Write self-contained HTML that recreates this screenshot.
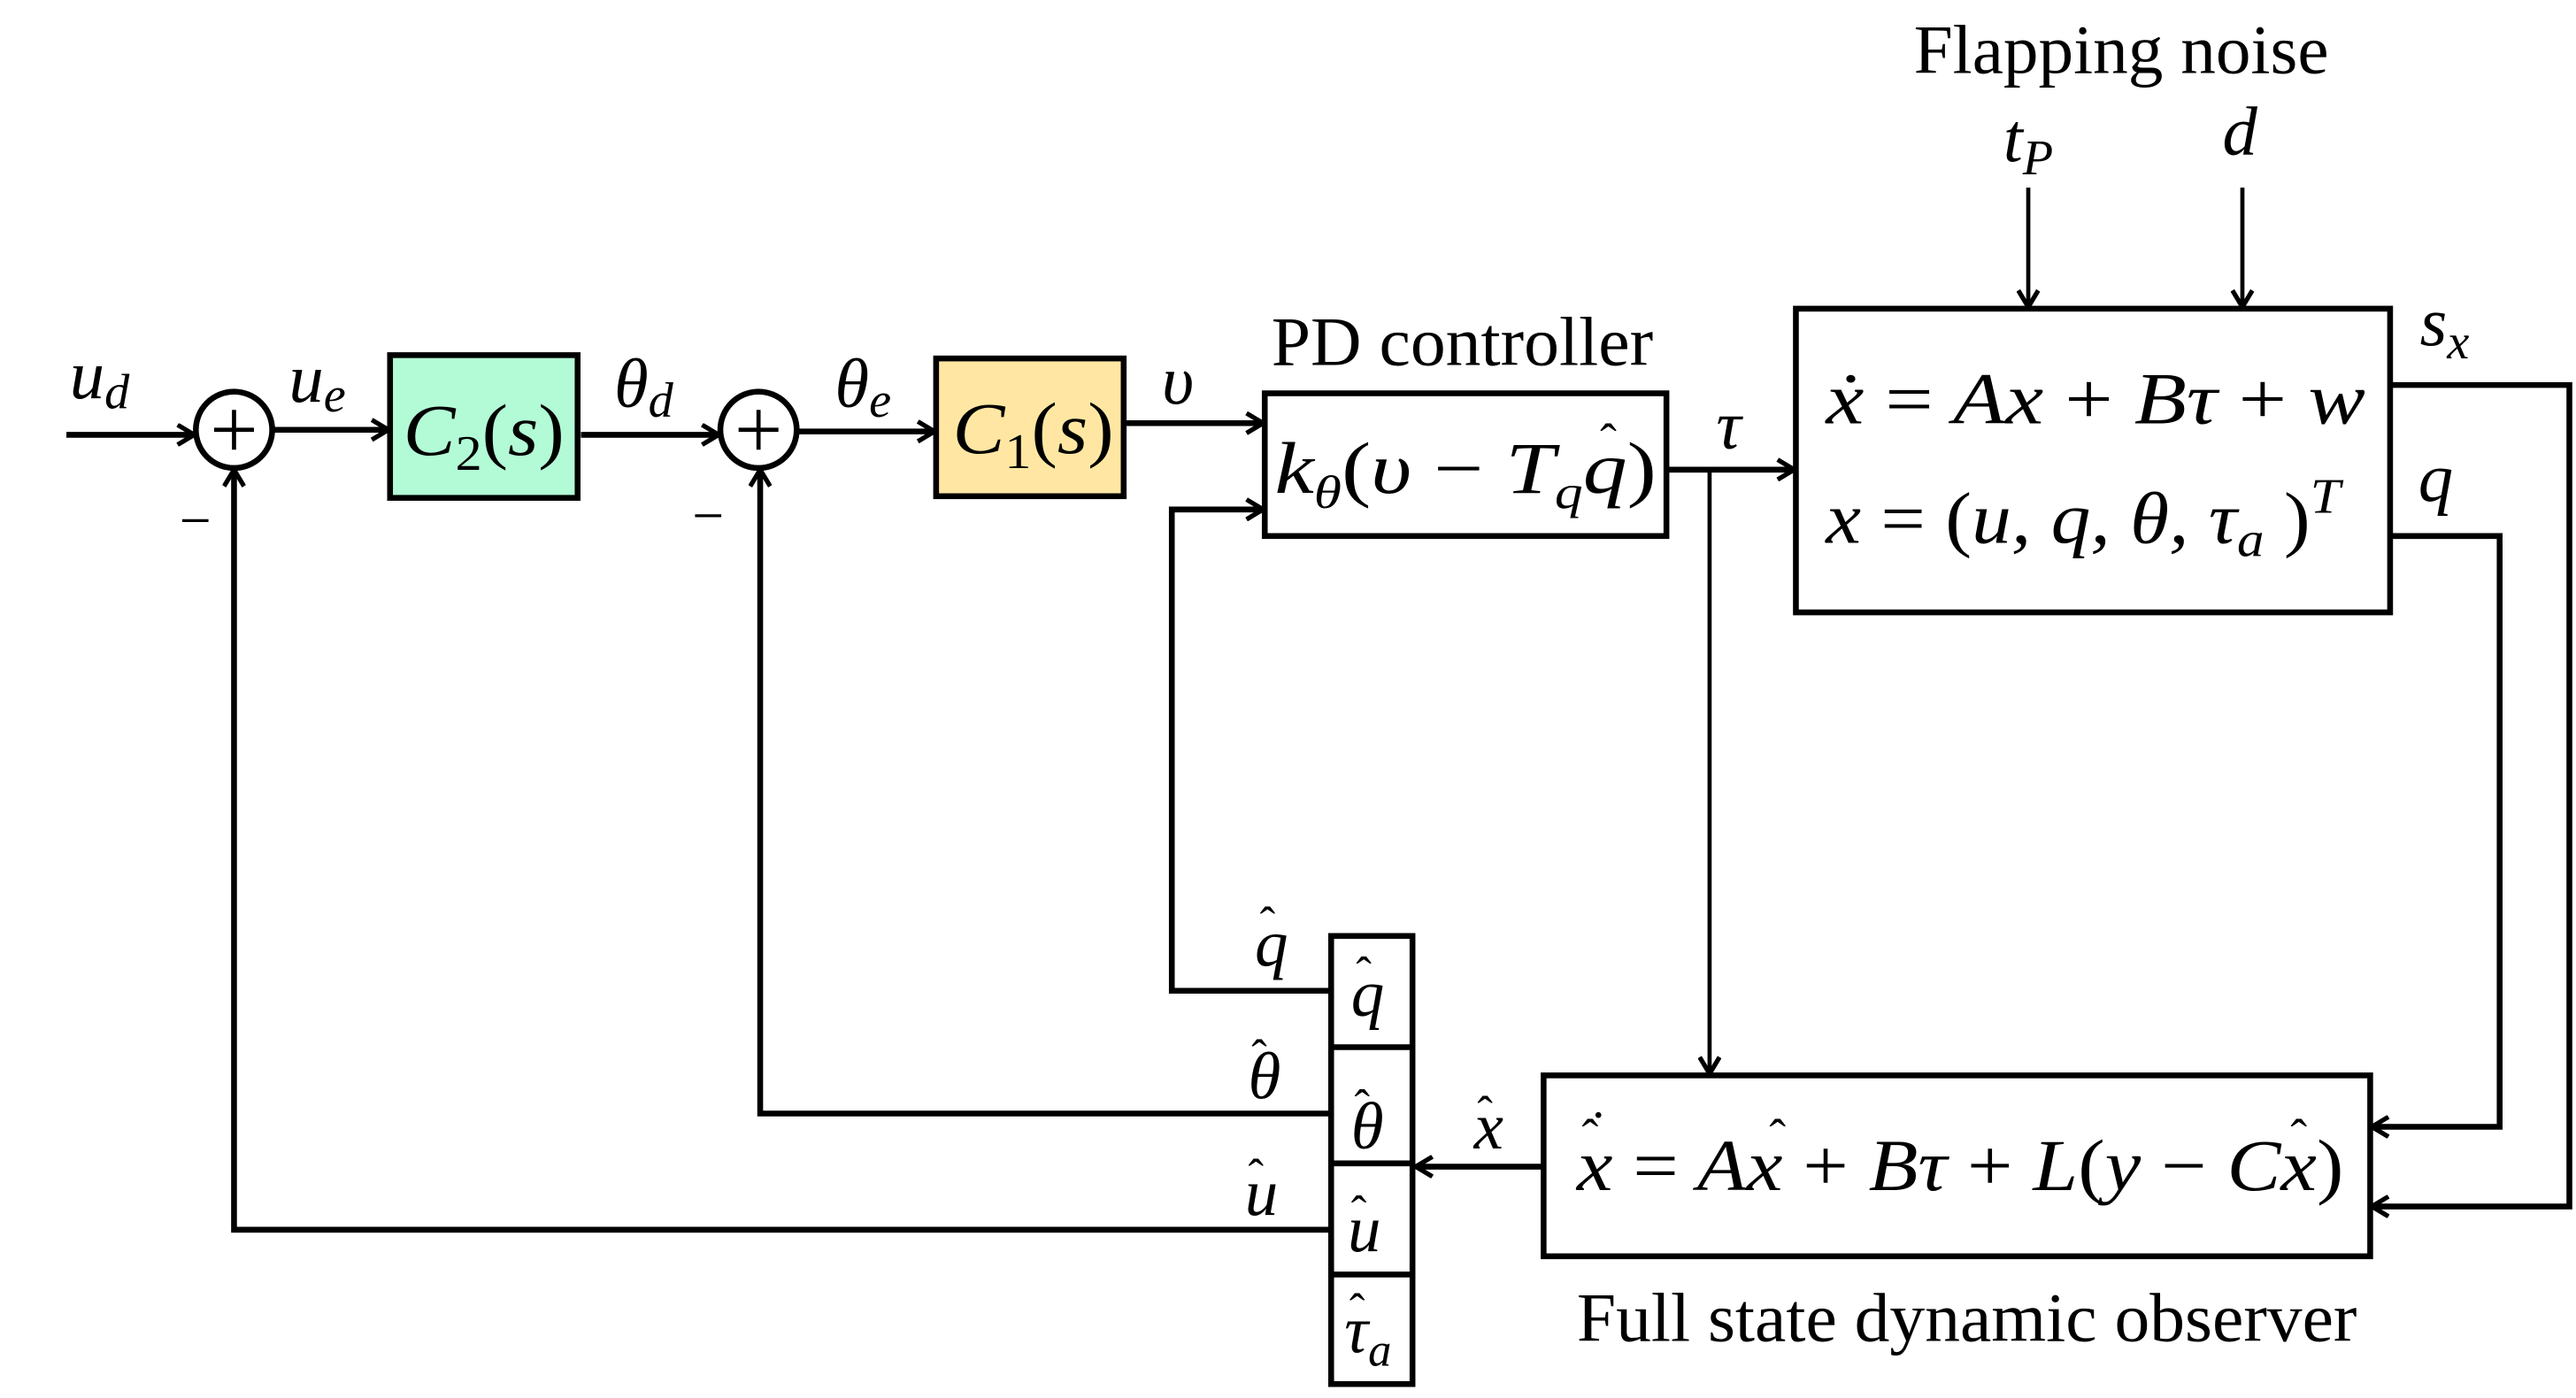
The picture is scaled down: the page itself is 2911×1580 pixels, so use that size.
<!DOCTYPE html>
<html><head><meta charset="utf-8"><style>
html,body{margin:0;padding:0;background:#fff;}
svg{display:block;}
text{font-family:"Liberation Serif",serif;fill:#000;}
.m{font-style:italic;}
.h{font-style:normal;}
</style></head><body>
<svg width="2911" height="1580" viewBox="0 0 1552 842.4" preserveAspectRatio="none" xmlns="http://www.w3.org/2000/svg">
<defs>
<marker id="a" markerWidth="14" markerHeight="14" refX="11" refY="7" orient="auto" markerUnits="userSpaceOnUse">
<path d="M1,1 L11,7 L1,13" fill="none" stroke="#000" stroke-width="2.8"/>
</marker>
</defs>
<g stroke="#000" stroke-width="3.5" fill="none">
<rect x="235" y="214" width="113" height="86" fill="#b3fbd6"/>
<rect x="564" y="216" width="113" height="83" fill="#ffe7a3"/>
<rect x="762" y="237" width="242" height="86"/>
<rect x="1082" y="186" width="358" height="183"/>
<rect x="930" y="648" width="498" height="109"/>
<rect x="802" y="564" width="49" height="270"/>
<line x1="802" y1="631" x2="851" y2="631"/>
<line x1="802" y1="701" x2="851" y2="701"/>
<line x1="802" y1="768" x2="851" y2="768"/>
<circle cx="141" cy="259" r="23" fill="#fff"/>
<circle cx="457" cy="259" r="23" fill="#fff"/>
<line x1="129" y1="259" x2="153" y2="259" stroke-width="2.5"/>
<line x1="141" y1="247" x2="141" y2="271" stroke-width="2.5"/>
<line x1="445" y1="259" x2="469" y2="259" stroke-width="2.5"/>
<line x1="457" y1="247" x2="457" y2="271" stroke-width="2.5"/>
<line x1="40" y1="262" x2="117" y2="262" marker-end="url(#a)"/>
<line x1="164" y1="259" x2="234" y2="259" marker-end="url(#a)"/>
<line x1="350" y1="262" x2="433" y2="262" marker-end="url(#a)"/>
<line x1="480" y1="260" x2="563" y2="260" marker-end="url(#a)"/>
<line x1="677" y1="255" x2="761" y2="255" marker-end="url(#a)"/>
<polyline points="802,597 706,597 706,307 761,307" marker-end="url(#a)"/>
<line x1="1004" y1="283" x2="1081" y2="283" marker-end="url(#a)"/>
<line x1="1030" y1="283" x2="1030" y2="647" marker-end="url(#a)" stroke-width="2.5"/>
<line x1="1222" y1="113" x2="1222" y2="185" marker-end="url(#a)" stroke-width="2.5"/>
<line x1="1351" y1="113" x2="1351" y2="185" marker-end="url(#a)" stroke-width="2.5"/>
<polyline points="1440,232 1548,232 1548,727 1429,727" marker-end="url(#a)"/>
<polyline points="1440,323 1506,323 1506,679 1429,679" marker-end="url(#a)"/>
<line x1="930" y1="703" x2="853" y2="703" marker-end="url(#a)"/>
<polyline points="802,671 458,671 458,283" marker-end="url(#a)"/>
<polyline points="802,741 141,741 141,283" marker-end="url(#a)"/>
</g>
<text x="42" y="240" font-size="42" class="m">u<tspan font-size="30" dy="6">d</tspan></text>
<text x="174" y="242" font-size="42" class="m">u<tspan font-size="30" dy="6">e</tspan></text>
<text x="108" y="325" font-size="34">−</text>
<text x="417" y="322" font-size="34">−</text>
<text x="243" y="274" font-size="44" class="m" textLength="97" lengthAdjust="spacingAndGlyphs">C<tspan font-size="30" dy="9" class="h">2</tspan><tspan dy="-9" class="h">(</tspan>s<tspan class="h">)</tspan></text>
<text x="574" y="273" font-size="44" class="m" textLength="97" lengthAdjust="spacingAndGlyphs">C<tspan font-size="30" dy="9" class="h">1</tspan><tspan dy="-9" class="h">(</tspan>s<tspan class="h">)</tspan></text>
<text x="370" y="245" font-size="42" class="m">θ<tspan font-size="30" dy="6">d</tspan></text>
<text x="503" y="245" font-size="42" class="m">θ<tspan font-size="30" dy="6">e</tspan></text>
<text x="700" y="243" font-size="42" class="m">υ</text>
<text x="766" y="220" font-size="42" textLength="230" lengthAdjust="spacingAndGlyphs">PD controller</text>
<text x="768" y="297" font-size="44" class="m" textLength="230" lengthAdjust="spacingAndGlyphs">k<tspan font-size="28" dy="9">θ</tspan><tspan dy="-9" class="h">(</tspan>υ <tspan class="h">−</tspan> T<tspan font-size="28" dy="9">q</tspan><tspan dy="-9">q</tspan><tspan class="h">)</tspan></text>
<text x="964" y="276" font-size="30" class="h">ˆ</text>
<text x="1034" y="270" font-size="42" class="m">τ</text>
<text x="1153" y="44" font-size="42" textLength="250" lengthAdjust="spacingAndGlyphs">Flapping noise</text>
<text x="1207" y="97" font-size="42" class="m">t<tspan font-size="30" dy="8">P</tspan></text>
<text x="1339" y="93" font-size="42" class="m">d</text>
<text x="1100" y="255" font-size="44" class="m" textLength="325" lengthAdjust="spacingAndGlyphs">ẋ <tspan class="h">=</tspan> Ax <tspan class="h">+</tspan> Bτ <tspan class="h">+</tspan> w</text>
<text x="1100" y="327" font-size="44" class="m" textLength="310" lengthAdjust="spacingAndGlyphs">x <tspan class="h">=</tspan> <tspan class="h">(</tspan>u, q, θ, τ<tspan font-size="30" dy="8">a</tspan><tspan dy="-8" class="h"> )</tspan><tspan font-size="30" dy="-18">T</tspan></text>
<text x="1458" y="208" font-size="42" class="m">s<tspan font-size="30" dy="8">x</tspan></text>
<text x="1457" y="302" font-size="42" class="m">q</text>
<text x="950" y="717" font-size="44" class="m" textLength="462" lengthAdjust="spacingAndGlyphs">x <tspan class="h">=</tspan> Ax <tspan class="h">+</tspan> Bτ <tspan class="h">+</tspan> L<tspan class="h">(</tspan>y <tspan class="h">−</tspan> Cx<tspan class="h">)</tspan></text>
<text x="953" y="695" font-size="30" class="h">ˆ</text>
<text x="958" y="682" font-size="30" class="h">·</text>
<text x="1066" y="695" font-size="30" class="h">ˆ</text>
<text x="1380" y="695" font-size="30" class="h">ˆ</text>
<text x="950" y="808" font-size="42" textLength="470" lengthAdjust="spacingAndGlyphs">Full state dynamic observer</text>
<g font-size="40" class="m">
<text x="888" y="692">x</text><text x="890" y="680" font-size="28" class="h">ˆ</text>
<text x="756" y="582">q</text><text x="759" y="566" font-size="28" class="h">ˆ</text>
<text x="752" y="662">θ</text><text x="754" y="646" font-size="28" class="h">ˆ</text>
<text x="750" y="732">u</text><text x="752" y="718" font-size="28" class="h">ˆ</text>
<text x="814" y="612">q</text><text x="817" y="596" font-size="28" class="h">ˆ</text>
<text x="814" y="692">θ</text><text x="816" y="676" font-size="28" class="h">ˆ</text>
<text x="812" y="754">u</text><text x="814" y="740" font-size="28" class="h">ˆ</text>
<text x="810" y="815">τ<tspan font-size="28" dy="8">a</tspan></text><text x="813" y="799" font-size="28" class="h">ˆ</text>
</g>
</svg>
</body></html>
